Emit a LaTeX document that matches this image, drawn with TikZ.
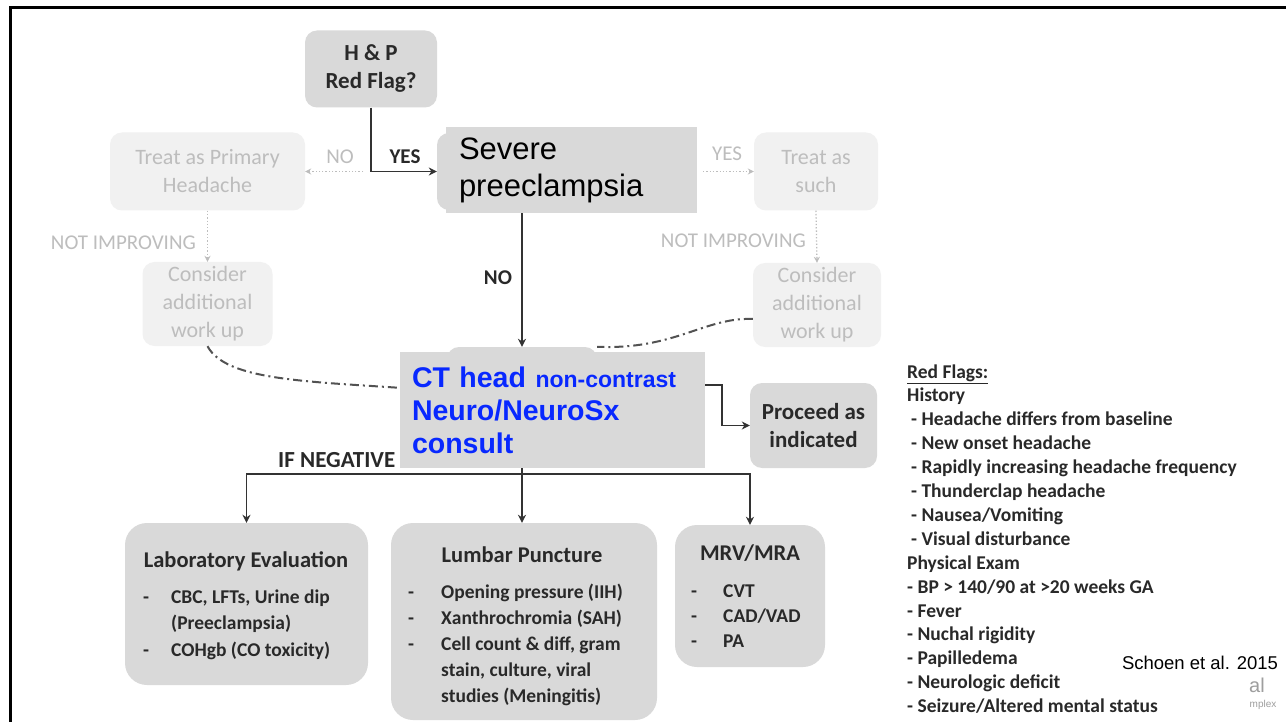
\documentclass[tikz,border=0pt]{standalone}
\usepackage{fontspec}
\setmainfont{Carlito}
\newfontfamily\arialfont{Liberation Sans}
\usetikzlibrary{arrows.meta,positioning}
\definecolor{mygray}{gray}{0.85}
\definecolor{myfade}{gray}{0.945}
\definecolor{myfadetext}{gray}{0.74}
\definecolor{mytext}{gray}{0.16}
\definecolor{myline}{gray}{0.2}
\definecolor{mycurve}{gray}{0.32}
\definecolor{myblue}{RGB}{8,40,255}
\definecolor{mymark}{gray}{0.62}

\begin{document}
\begin{tikzpicture}[x=1pt,y=-1pt,
  box/.style={fill=mygray,rounded corners=12pt,inner sep=0pt,align=center,
    text=mytext,font=\bfseries\fontsize{23}{28}\selectfont},
  bigbox/.style={fill=mygray,rounded corners=22pt,inner sep=0pt},
  fadebox/.style={fill=myfade,rounded corners=12pt,inner sep=0pt,align=center,
    text=myfadetext,font=\fontsize{22}{28}\selectfont},
  overbox/.style={fill=mygray,inner ysep=0pt,align=left},
  title/.style={text=mytext,font=\bfseries\fontsize{22.5}{27}\selectfont,inner sep=0pt},
  items/.style={text=mytext,font=\bfseries\fontsize{19.5}{#1}\selectfont,
    inner sep=0pt,align=left,anchor=base west},
  lbl/.style={text=mytext,font=\bfseries\fontsize{21}{25}\selectfont,inner sep=0pt},
  fadelbl/.style={text=myfadetext,font=\fontsize{21}{25}\selectfont,inner sep=0pt},
  flow/.style={myline,line width=1.8pt,-{Stealth[length=8pt,width=8pt]}},
  fadeflow/.style={myfadetext,line width=1.3pt,dotted,-{Stealth[length=6pt,width=6pt]}},
  backflow/.style={mycurve,line width=2pt,dash pattern=on 9pt off 4pt on 2pt off 4pt}
]
\useasboundingbox (0,0) rectangle (1286,722);
\fill[white] (0,0) rectangle (1286,722);

% original flowchart
\node[box,minimum width=132pt,minimum height=77pt] (hp) at (371,69) {H \& P\\Red Flag?};
\node[box,minimum width=170pt,minimum height=77pt] (sevorig) at (522,171.5) {};
\node[fadebox,minimum width=195pt,minimum height=78pt] (primary) at (207.5,171.5) {Treat as Primary\\Headache};
\node[fadebox,minimum width=124pt,minimum height=78pt] (tsuch) at (816,171.5) {Treat as\\such};
\node[fadebox,minimum width=130pt,minimum height=84pt] (considerL) at (207.5,304) {Consider\\additional\\work up};
\node[fadebox,minimum width=128pt,minimum height=84pt] (considerR) at (817,305) {Consider\\additional\\work up};
\node[box,minimum width=150pt,minimum height=119pt] (ctorig) at (522,406.5) {};
\node[box,minimum width=127pt,minimum height=85pt] (proceed) at (813.5,425.5) {Proceed as\\indicated};

\node[bigbox,minimum width=243pt,minimum height=162pt] (lab) at (246.5,604) {};
\node[bigbox,minimum width=266pt,minimum height=197pt] (lp) at (524,621.5) {};
\node[bigbox,minimum width=150pt,minimum height=142pt] (mrv) at (750,596) {};

% base of a list node is the baseline of its last line
\node[title] (labtitle) at (246,561) {Laboratory Evaluation};
\node[items=26.5] (labitems) at (143,656) {\makebox[28pt][l]{-}CBC, LFTs, Urine dip\\
  \hspace*{28pt}(Preeclampsia)\\
  \makebox[28pt][l]{-}COHgb (CO toxicity)};
\node[title] (lptitle) at (522,555) {Lumbar Puncture};
\node[items=25.8] (lpitems) at (408,702) {\makebox[33pt][l]{-}Opening pressure (IIH)\\
  \makebox[33pt][l]{-}Xanthrochromia (SAH)\\
  \makebox[33pt][l]{-}Cell count \& diff, gram\\
  \hspace*{33pt}stain, culture, viral\\
  \hspace*{33pt}studies (Meningitis)};
\node[title] (mrvtitle) at (750,553) {MRV/MRA};
\node[items=25] (mrvitems) at (691,647) {\makebox[32pt][l]{-}CVT\\
  \makebox[32pt][l]{-}CAD/VAD\\
  \makebox[32pt][l]{-}PA};

% connectors
\coordinate (split) at (hp.south |- sevorig.west);
\draw[flow] (hp.south) |- (sevorig.west);
\draw[fadeflow] ([xshift=-8pt]split) -- (primary.east);
\draw[fadeflow] ([xshift=6pt]sevorig.east -| 697,0) -- (tsuch.west);
\draw[fadeflow] (primary.south) -- (considerL.north);
\draw[fadeflow] (tsuch.south) -- (considerR.north);
\draw[flow] (sevorig.south) -- (ctorig.north);
\draw[backflow] (considerL.south) .. controls (228,385) and (330,381) .. ([yshift=15pt]ctorig.west);
\draw[backflow] ([yshift=-14pt]considerR.west) .. controls (705,317) and (675,350) .. (ctorig.north east);
\coordinate (turn) at (722,385);
\draw[flow] (ctorig.east |- turn) -- (turn) |- (proceed.west);
\coordinate (bus) at (522,474);
\draw[flow] (ctorig.south) -- (ctorig.south |- lp.north);
\draw[flow] (bus) -| (lab.north);
\draw[flow] (bus) -| (mrv.north);

\node[lbl] (yes) at (405,157) {YES};
\node[fadelbl] (nol) at (340,157) {NO};
\node[fadelbl] (yesr) at (727,154) {YES};
\node[fadelbl,anchor=east] (nimpL) at (196,243) {NOT IMPROVING};
\node[fadelbl,anchor=east] (nimpR) at (806,241) {NOT IMPROVING};
\node[lbl] (no) at (498,278) {NO};
\node[lbl,anchor=west,font=\bfseries\fontsize{23}{27}\selectfont] (ifneg) at (278,460) {IF NEGATIVE};

% boxes laid over the original
\node[overbox,minimum height=86pt,text width=225pt,inner xsep=13pt,
  font=\arialfont\fontsize{31}{37}\selectfont,text=black] (sev) at (571.5,170) {Severe\\preeclampsia};
\node[overbox,minimum height=116pt,text width=281pt,inner xsep=12pt,
  font=\arialfont\bfseries\fontsize{28.5}{33}\selectfont,text=myblue] (ct) at (552.5,410)
  {CT head {\fontsize{23}{33}\selectfont non-contrast}\\Neuro/NeuroSx\\consult};

% red flags
\node[items=23.9] (flags) at (907,712.6) {\underline{Red Flags:}\\
  History\\
  \hspace*{4pt}- Headache differs from baseline\\
  \hspace*{4pt}- New onset headache\\
  \hspace*{4pt}- Rapidly increasing headache frequency\\
  \hspace*{4pt}- Thunderclap headache\\
  \hspace*{4pt}- Nausea/Vomiting\\
  \hspace*{4pt}- Visual disturbance\\
  Physical Exam\\
  - BP > 140/90 at >20 weeks GA\\
  - Fever\\
  - Nuchal rigidity\\
  - Papilledema\\
  - Neurologic deficit\\
  - Seizure/Altered mental status};

\node[inner sep=0pt,font=\arialfont\fontsize{18.5}{22}\selectfont] (cite) at (1200,663) {Schoen et al. 2015};
\node[inner sep=0pt,text=mymark,font=\arialfont\fontsize{20}{22}\selectfont] (mark1) at (1257,685) {al};
\node[inner sep=0pt,text=mymark,font=\arialfont\fontsize{10}{12}\selectfont] (mark2) at (1263,705) {mplex};

\draw[black,line width=3pt] (10,722) -- (10,8) -- (1286,8);
\end{tikzpicture}
\end{document}
